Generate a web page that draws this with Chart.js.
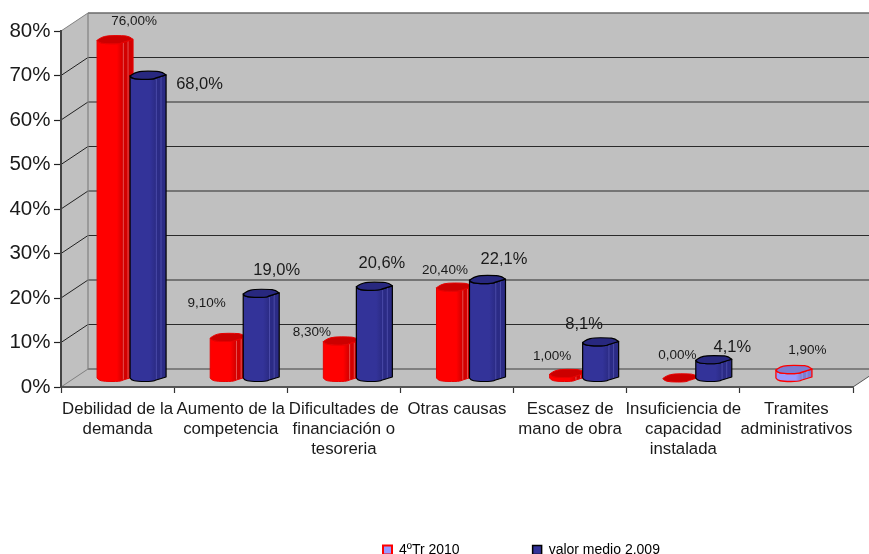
<!DOCTYPE html>
<html><head><meta charset="utf-8">
<style>html,body{margin:0;padding:0;background:#fff}canvas{display:block}</style>
<script src="https://cdn.jsdelivr.net/npm/chart.js@4"></script>
</head><body><canvas id="c" width="869" height="554"></canvas>
<script>
const categories = [
  ['Debilidad de la','demanda'],
  ['Aumento de la','competencia'],
  ['Dificultades de','financiación o','tesoreria'],
  ['Otras causas'],
  ['Escasez de','mano de obra'],
  ['Insuficiencia de','capacidad','instalada'],
  ['Tramites','administrativos']
];
const seriesNames = ['4ºTr 2010','valor medio 2.009'];
const tr2010 = [76, 9.1, 8.3, 20.4, 1, 0, 1.9];
const valorMedio = [68, 19, 20.6, 22.1, 8.1, 4.1, null];
const tr2010Labels = ['76,00%','9,10%','8,30%','20,40%','1,00%','0,00%','1,90%'];
const valorMedioLabels = ['68,0%','19,0%','20,6%','22,1%','8,1%','4,1%',''];
// label displacement from the top of its bar
const tr2010Shift = [[19.5,-18.5],[-21,-34.5],[-29,-8.5],[-9,-16.5],[-15,-17.5],[-3,-22.5],[14,-19.5]];
const valorShift = [[52,9.5],[16,-22.5],[8,-22.5],[17,-20.5],[-16,-17.5],[19,-12.5],[0,0]];

const FONT = '"Liberation Sans", Arial, sans-serif';
const DX = 27, DY = 18;
const FRONT = [[0,.5],[.03,2.5],[.2,4],[.63,4],[.72,2.5],[1,-.5]];
const BACK = [[1,-.5],[.9,-3.5],[.7,-4.2],[.3,-4.2],[.12,-2.5],[0,.5]];

function smoothTo(ctx, pts) {
  for (let i = 1; i < pts.length - 1; i++) {
    const mx = (pts[i][0] + pts[i+1][0]) / 2, my = (pts[i][1] + pts[i+1][1]) / 2;
    ctx.quadraticCurveTo(pts[i][0], pts[i][1], mx, my);
  }
  const last = pts[pts.length - 1];
  ctx.lineTo(last[0], last[1]);
}

function cylinder(ctx, cx, top, base, w, st) {
  const x0 = cx - w/2, px = u => x0 + u*w;
  const at = (list, y) => list.map(p => [px(p[0]), y + p[1]]);
  ctx.save();
  ctx.lineJoin = 'round';
  const body = () => {
    ctx.beginPath();
    const bottom = at(FRONT, base), upper = at(FRONT, top).reverse();
    ctx.moveTo(upper[upper.length-1][0], upper[upper.length-1][1]);
    ctx.lineTo(bottom[0][0], bottom[0][1]);
    smoothTo(ctx, bottom);
    ctx.lineTo(upper[0][0], upper[0][1]);
    smoothTo(ctx, upper);
    ctx.closePath();
  };
  if (base - top > .5) {
    const g = ctx.createLinearGradient(x0, 0, x0 + w, 0);
    g.addColorStop(0, st.fill); g.addColorStop(.55, st.fill); g.addColorStop(.72, st.side); g.addColorStop(1, st.side);
    body();
    ctx.fillStyle = g; ctx.fill();
    ctx.save(); body(); ctx.clip();
    ctx.strokeStyle = st.strip; ctx.lineWidth = 1;
    [.73, .86].forEach(u => { ctx.beginPath(); ctx.moveTo(px(u), top); ctx.lineTo(px(u), base + 6); ctx.stroke(); });
    ctx.restore();
    body();
    ctx.strokeStyle = st.line; ctx.lineWidth = st.lw; ctx.stroke();
  }
  const f = at(FRONT, top), b = at(BACK, top);
  ctx.beginPath();
  ctx.moveTo(f[0][0], f[0][1]);
  smoothTo(ctx, f);
  smoothTo(ctx, b);
  ctx.closePath();
  ctx.fillStyle = st.cap; ctx.fill();
  ctx.strokeStyle = st.line; ctx.lineWidth = st.lw; ctx.stroke();
  ctx.restore();
}

const RED = {fill:'#ff0000', side:'#d20000', strip:'#e45050', cap:'#cc0000', line:'#e80000', lw:1};
const BLUE = {fill:'#333399', side:'#2b2b85', strip:'#4a4aa8', cap:'#28287f', line:'#000', lw:1.2};
const LILAC = {fill:'#9999ff', side:'#7d7dd0', strip:'#9a9ae0', cap:'#7d7dd0', line:'#ff0000', lw:1.3};

const stage3d = {
  id: 'stage3d',
  beforeLayout(chart) {
    const lg = chart.legend;
    if (lg && !lg._wrapped) {
      const f = lg.fit;
      lg.fit = function () { f.call(this); this.height = 24; };
      lg._wrapped = true;
    }
  },
  afterLayout(chart) {
    chart.legend.left = 383 - 73;
    chart.legend.top = 550 - 7 - 73;
  },
  beforeDraw(chart) {
    const {ctx, chartArea: a, scales: {y}} = chart;
    ctx.save();
    ctx.fillStyle = '#c0c0c0';
    ctx.beginPath();
    ctx.moveTo(a.left, a.top); ctx.lineTo(a.left + DX, a.top - DY);
    ctx.lineTo(a.right + DX, a.top - DY); ctx.lineTo(a.right + DX, a.bottom - DY);
    ctx.lineTo(a.right, a.bottom); ctx.lineTo(a.left, a.bottom);
    ctx.closePath(); ctx.fill();
    y.ticks.forEach((t, i) => {
      const py = y.getPixelForTick(i);
      const edge = i === 0 || i === y.ticks.length - 1;
      ctx.strokeStyle = edge ? '#6a6a6a' : '#2a2a2a';
      ctx.lineWidth = edge ? 1.6 : 1.2;
      ctx.beginPath();
      ctx.moveTo(a.left + DX, py - DY); ctx.lineTo(a.right + DX, py - DY); ctx.stroke();
      ctx.strokeStyle = edge ? '#808080' : '#222';
      ctx.lineWidth = 1;
      ctx.beginPath();
      ctx.moveTo(a.left, py); ctx.lineTo(a.left + DX, py - DY); ctx.stroke();
    });
    ctx.strokeStyle = '#808080'; ctx.lineWidth = 1.2;
    ctx.beginPath(); ctx.moveTo(a.left + DX, a.top - DY); ctx.lineTo(a.left + DX, a.bottom - DY); ctx.stroke();
    ctx.strokeStyle = '#555'; ctx.lineWidth = 1;
    ctx.beginPath(); ctx.moveTo(a.right, a.bottom); ctx.lineTo(a.right + DX, a.bottom - DY); ctx.stroke();
    ctx.restore();
  },
  beforeDatasetsDraw(chart) {
    const {ctx} = chart;
    const grow = 3;
    const styleOf = (d, i) => d === 1 ? BLUE : (i === 6 ? LILAC : RED);
    [0, 1].forEach(d => chart.getDatasetMeta(d).data.forEach((el, i) => {
      if (chart.data.datasets[d].data[i] == null) return;
      cylinder(ctx, el.x + DX/2 + .5, el.y - DY/2, el.base - DY/2, el.width + grow, styleOf(d, i));
    }));
    ctx.save();
    ctx.fillStyle = '#1a1a1a'; ctx.textAlign = 'center'; ctx.textBaseline = 'middle';
    chart.getDatasetMeta(0).data.forEach((el, i) => {
      ctx.font = '13.5px ' + FONT;
      ctx.fillText(tr2010Labels[i], el.x + DX/2 + tr2010Shift[i][0], el.y - DY/2 + tr2010Shift[i][1]);
    });
    chart.getDatasetMeta(1).data.forEach((el, i) => {
      if (!valorMedioLabels[i]) return;
      ctx.font = '16.5px ' + FONT;
      ctx.fillText(valorMedioLabels[i], el.x + DX/2 + valorShift[i][0], el.y - DY/2 + valorShift[i][1]);
    });
    ctx.restore();
    return false;
  }
};

new Chart(document.getElementById('c'), {
  type: 'bar',
  data: {
    labels: categories,
    datasets: [
      {label: seriesNames[0], data: tr2010, backgroundColor: '#9999ff', borderColor: '#ff0000'},
      {label: seriesNames[1], data: valorMedio, backgroundColor: '#333399', borderColor: '#000000'}
    ]
  },
  options: {
    responsive: false,
    animation: false,
    devicePixelRatio: 1,
    layout: {padding: {top: 31, right: 16, left: 0, bottom: 0}},
    datasets: {bar: {categoryPercentage: 33/56.57, barPercentage: 1}},
    scales: {
      x: {
        afterFit: s => { s.height = 143; },
        grid: {drawOnChartArea: false, drawTicks: true, tickLength: 6, color: '#333', tickWidth: 1.2},
        border: {display: true, color: '#555', width: 2},
        ticks: {autoSkip: false, maxRotation: 0, minRotation: 0, padding: 6, color: '#1a1a1a',
                font: {family: FONT, size: 16.8, lineHeight: 1.19}}
      },
      y: {
        min: 0, max: 80,
        afterFit: s => { s.width = 61; },
        grid: {drawOnChartArea: false, drawTicks: true, tickLength: 7, color: '#222', tickWidth: 1.2},
        border: {display: true, color: '#444', width: 2},
        ticks: {stepSize: 10, padding: 3.5, color: '#1a1a1a',
                callback: v => v + '%',
                font: {family: FONT, size: 20.5}}
      }
    },
    plugins: {
      tooltip: {enabled: false},
      legend: {
        position: 'bottom', align: 'start',
        labels: {
          boxWidth: 9, boxHeight: 9, padding: 73, color: '#1a1a1a',
          font: {family: FONT, size: 14},
          generateLabels: c => c.data.datasets.map((d, i) => ({
            text: d.label, fillStyle: d.backgroundColor, strokeStyle: d.borderColor,
            lineWidth: i === 0 ? 2 : 1.5, datasetIndex: i, hidden: false
          }))
        }
      }
    }
  },
  plugins: [stage3d]
});
</script></body></html>
